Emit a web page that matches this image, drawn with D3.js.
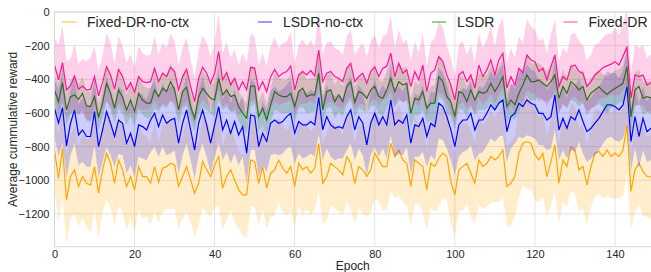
<!DOCTYPE html>
<html>
<head>
<meta charset="utf-8">
<script src="https://cdn.jsdelivr.net/npm/d3@7"></script>
<style>
html,body{margin:0;padding:0;background:#fff;}
svg{display:block;font-family:"Liberation Sans",Arial,sans-serif;}
</style>
</head>
<body>
<svg id="chart" width="651" height="272"></svg>
<script>
const seriesNames = ["Fixed-DR-no-ctx","LSDR-no-ctx","LSDR","Fixed-DR"];
const seriesColors = ["#FFA500","#0000FF","#008000","#FF1493"];
const xTicks = [0,20,40,60,80,100,120,140];
const yTicks = [0,-200,-400,-600,-800,-1000,-1200];

const fixedDR = [-315,-404,-301,-463,-440,-380,-459,-440,-463,-459,-384,-499,-420,-325,-374,-459,-341,-384,-463,-420,-479,-384,-414,-420,
-414,-335,-414,-364,-384,-329,-354,-463,-384,-341,-443,-533,-394,-329,-364,-424,-364,-236,-404,-360,-434,-394,-463,-414,
-463,-329,-335,-463,-414,-473,-384,-341,-384,-364,-354,-321,-463,-374,-354,-374,-348,-380,-226,-414,-364,-354,-384,-394,-414,
-335,-305,-414,-384,-364,-424,-354,-325,-384,-335,-321,-245,-384,-305,-364,-344,-443,-354,-404,-315,-473,-364,-344,
-265,-295,-374,-434,-523,-374,-354,-414,-374,-453,-315,-384,-344,-285,-374,-285,-245,-453,-384,-434,-335,-364,-255,-285,
-295,-354,-335,-404,-325,-255,-443,-384,-404,-325,-315,-354,-364,-443,-414,-374,-354,-330,-320,-310,-295,-315,-265,-206,-513,-374,-384,-374,-434,-420];

const lsdr = [-463,-533,-420,-582,-503,-493,-519,-483,-558,-562,-503,-626,-542,-424,-483,-572,-463,-507,-582,-523,-592,-483,-523,-542,
-542,-463,-503,-453,-473,-414,-463,-582,-473,-447,-562,-632,-503,-453,-483,-513,-523,-394,-493,-463,-503,-493,-562,-602,
-632,-440,-440,-622,-572,-642,-552,-473,-493,-503,-503,-483,-562,-473,-453,-503,-493,-493,-364,-582,-473,-463,-533,-493,-533,
-443,-414,-538,-473,-483,-513,-463,-443,-503,-513,-463,-394,-473,-414,-434,-424,-602,-513,-523,-473,-572,-542,-542,
-384,-414,-503,-533,-622,-473,-483,-533,-463,-523,-473,-483,-473,-424,-473,-434,-384,-562,-523,-552,-483,-434,-374,-414,
-414,-404,-424,-443,-414,-374,-513,-443,-483,-414,-434,-463,-443,-523,-483,-463,-445,-470,-490,-470,-455,-440,-424,-325,-622,-463,-443,-513,-503,-510];

const lsdrNoCtx = [-572,-661,-568,-796,-661,-582,-731,-701,-740,-740,-592,-800,-701,-592,-661,-740,-642,-661,-780,-721,-800,-671,-681,-701,
-642,-602,-681,-612,-661,-642,-632,-780,-661,-582,-701,-820,-661,-582,-671,-780,-671,-562,-701,-642,-721,-651,-731,-681,
-839,-612,-618,-800,-721,-770,-661,-642,-661,-651,-622,-602,-721,-651,-671,-671,-651,-671,-507,-701,-622,-671,-691,-681,-691,
-622,-582,-701,-622,-661,-790,-661,-602,-671,-622,-671,-523,-671,-642,-661,-612,-780,-671,-681,-632,-740,-661,-681,
-542,-562,-622,-701,-800,-671,-642,-642,-602,-701,-642,-642,-602,-552,-582,-542,-523,-711,-622,-602,-542,-562,-523,-542,
-552,-602,-602,-642,-622,-493,-701,-632,-691,-622,-642,-582,-651,-711,-691,-661,-632,-592,-552,-552,-562,-582,-552,-443,-770,-622,-740,-632,-711,-690];

const fixedDRNoCtx = [-820,-988,-810,-1117,-978,-938,-1037,-978,-1018,-1028,-919,-1077,-938,-839,-899,-1018,-879,-938,-1037,-978,-1057,-919,-978,-978,
-1018,-919,-1012,-929,-919,-899,-909,-1037,-978,-919,-998,-1077,-1018,-889,-938,-978,-909,-859,-1047,-978,-938,-998,-1057,-1087,
-1087,-879,-889,-1018,-919,-1047,-958,-938,-879,-929,-958,-919,-1037,-899,-938,-919,-958,-929,-780,-1018,-978,-899,-919,-938,-968,
-859,-899,-1018,-919,-938,-978,-938,-839,-879,-919,-919,-780,-859,-820,-879,-899,-1037,-879,-899,-919,-1057,-899,-919,
-869,-839,-859,-1008,-1087,-938,-919,-899,-958,-1018,-879,-919,-899,-859,-879,-859,-820,-1037,-1018,-978,-839,-780,-770,-780,
-849,-879,-839,-978,-889,-790,-1018,-879,-919,-800,-820,-938,-919,-1028,-919,-839,-829,-859,-820,-859,-839,-859,-820,-671,-1067,-938,-899,-948,-978,-980];

const sdFixedDR = [160,210,220,170,160,190,150,160,170,190,180,150,160,200,190,150,200,180,160,170,150,180,170,160,160,190,160,180,170,200,
180,150,170,190,160,140,170,190,180,160,180,230,160,180,160,170,150,170,160,200,190,150,170,150,180,190,170,180,180,200,
150,180,190,170,180,170,230,160,180,180,170,170,160,190,200,160,170,180,160,180,190,170,190,190,220,170,200,180,180,
150,180,160,190,150,180,190,210,200,170,160,140,180,180,160,180,150,190,170,180,200,170,200,210,150,170,160,190,180,210,
200,190,180,180,160,190,210,150,170,160,190,190,180,170,150,160,180,170,180,190,180,200,180,200,220,150,180,170,180,160,170];

const sdLSDR = [90,110,120,90,100,110,90,100,90,90,100,80,90,110,100,90,110,100,90,100,90,100,90,90,90,110,90,100,100,110,
100,90,100,110,90,80,100,110,100,90,100,130,90,100,90,100,90,90,90,120,110,90,100,90,100,110,100,100,100,110,
90,100,110,100,100,100,130,90,100,100,100,100,90,110,110,90,100,100,90,100,110,100,100,110,120,100,110,100,100,
90,100,90,110,90,100,110,120,110,100,90,80,100,100,90,100,90,110,100,100,110,100,110,120,90,100,90,110,100,120,
110,110,100,100,90,100,120,90,100,90,110,100,100,100,90,90,100,100,100,110,100,110,100,110,130,90,100,100,100,90,100];

const sdLSDRNoCtx = [170,200,210,190,190,200,180,190,180,180,200,180,190,210,190,180,200,190,180,190,180,190,190,180,190,200,180,190,190,200,
190,180,190,200,180,170,190,200,190,180,190,220,180,190,180,190,180,180,180,210,200,180,190,180,190,200,190,190,190,200,
180,190,200,190,190,190,220,180,190,190,190,190,180,200,200,180,190,190,180,190,200,190,190,200,210,190,200,190,190,
180,190,180,200,180,190,200,210,200,190,180,170,190,190,180,190,180,200,190,190,200,190,200,210,180,190,180,200,190,210,
200,200,190,190,180,190,210,180,190,180,200,190,190,190,180,180,190,190,190,200,190,200,190,200,220,180,190,190,190,180,190];

const sdFixedDRNoCtx = [230,260,280,270,250,260,240,250,260,280,260,270,250,280,260,250,270,250,260,250,250,260,250,240,250,270,240,260,250,270,
260,250,250,270,250,260,250,270,260,240,250,290,250,260,240,250,230,240,250,280,270,250,250,240,260,270,250,260,250,270,
240,260,270,250,250,250,290,240,260,250,250,250,240,270,270,240,250,260,240,250,270,250,260,260,280,250,270,250,250,
240,260,240,270,240,260,270,290,270,260,250,240,250,260,240,260,240,270,250,260,270,250,270,280,240,250,240,270,250,280,
270,270,250,260,240,260,280,240,250,240,260,260,250,250,240,240,260,250,250,270,250,270,250,270,290,230,250,250,260,240,250];

const means = [fixedDRNoCtx, lsdrNoCtx, lsdr, fixedDR];
const sds = [sdFixedDRNoCtx, sdLSDRNoCtx, sdLSDR, sdFixedDR];

const L = 54.5, R = 651, T = 12, B = 246.7;
const x = d3.scaleLinear().domain([0,149]).range([L,R]);
const y = d3.scaleLinear().domain([-1395,0]).range([B,T]);

const svg = d3.select("#chart");
svg.append("defs").append("clipPath").attr("id","clip")
  .append("rect").attr("x",L).attr("y",T).attr("width",R-L).attr("height",B-T);

const gridColor = "#e3e3e3";
svg.append("g").selectAll("line").data(yTicks).join("line")
  .attr("x1",L).attr("x2",R).attr("y1",d=>y(d)).attr("y2",d=>y(d))
  .attr("stroke",gridColor).attr("stroke-width",1);
svg.append("g").selectAll("line").data(xTicks).join("line")
  .attr("y1",T).attr("y2",B).attr("x1",d=>x(d)).attr("x2",d=>x(d))
  .attr("stroke",gridColor).attr("stroke-width",1);

const plot = svg.append("g").attr("clip-path","url(#clip)");
const area = (m,s) => d3.area().x((d,i)=>x(i)).y0((d,i)=>y(m[i]-s[i])).y1((d,i)=>y(m[i]+s[i]))(m);
const line = d3.line().x((d,i)=>x(i)).y(d=>y(d));

means.forEach((m,k)=>{
  plot.append("path").attr("d",area(m,sds[k])).attr("fill",seriesColors[k]).attr("fill-opacity",0.2);
  plot.append("path").attr("d",line(m)).attr("fill","none").attr("stroke",seriesColors[k]).attr("stroke-width",1.2);
});

svg.append("rect").attr("x",L).attr("y",T).attr("width",R-L+5).attr("height",B-T)
  .attr("fill","none").attr("stroke","#d6d6d6").attr("stroke-width",1);

const yAxis = d3.axisLeft(y).tickValues(yTicks).tickSize(0).tickPadding(5)
  .tickFormat(d=>d3.format("d")(d).replace("-","\u2212"));
const gy = svg.append("g").attr("transform",`translate(${L},0)`).call(yAxis);
gy.select(".domain").remove();
gy.selectAll("text").attr("font-size","11px").attr("fill","#262626").attr("font-family","Liberation Sans, Arial, sans-serif");

const xAxis = d3.axisBottom(x).tickValues(xTicks).tickSize(0).tickPadding(4).tickFormat(d3.format("d"));
const gx = svg.append("g").attr("transform",`translate(0,${B})`).call(xAxis);
gx.select(".domain").remove();
gx.selectAll("text").attr("font-size","11px").attr("fill","#262626").attr("font-family","Liberation Sans, Arial, sans-serif");

svg.append("text").attr("x",(L+R)/2).attr("y",270).attr("text-anchor","middle")
  .attr("font-size","12px").attr("fill","#262626").text("Epoch");
svg.append("text").attr("transform",`translate(16.5,${(T+B)/2}) rotate(-90)`).attr("text-anchor","middle")
  .attr("font-size","12px").attr("fill","#262626").text("Average cummulative reward");

const lg = svg.append("g");
let lx = 62;
seriesNames.forEach((name,k)=>{
  lg.append("line").attr("x1",lx).attr("x2",lx+14).attr("y1",22).attr("y2",22)
    .attr("stroke",seriesColors[k]).attr("stroke-opacity",0.5).attr("stroke-width",1.6);
  const t = lg.append("text").attr("x",lx+25).attr("y",27).attr("font-size","14px").attr("fill","#262626").text(name);
  lx += 25 + t.node().getComputedTextLength() + 69;
});
</script>
</body>
</html>
